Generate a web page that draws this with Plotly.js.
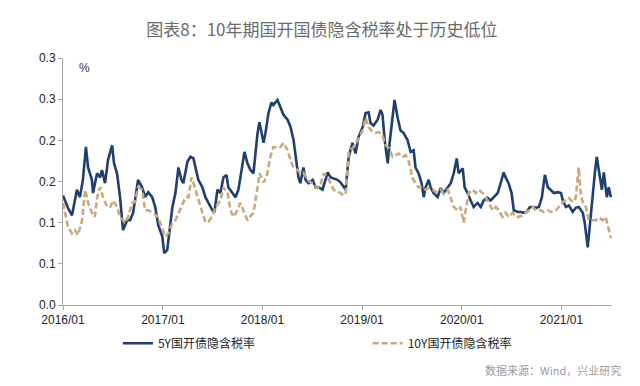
<!DOCTYPE html>
<html>
<head>
<meta charset="utf-8">
<script src="https://cdn.plot.ly/plotly-3.0.1.min.js"></script>
<style>html,body{margin:0;padding:0;background:#fff;}#chart{width:640px;height:386px;}</style>
</head>
<body>
<div id="chart"></div>
<script>
const dates5Y = ["2016-01-01","2016-01-19","2016-02-03","2016-02-21","2016-03-03","2016-03-14","2016-03-25","2016-04-02","2016-04-16","2016-04-20","2016-05-05","2016-05-16","2016-05-23","2016-06-03","2016-06-14","2016-06-29","2016-07-06","2016-07-17","2016-07-28","2016-08-08","2016-08-23","2016-09-03","2016-09-14","2016-10-02","2016-10-17","2016-10-28","2016-11-08","2016-11-23","2016-12-04","2016-12-15","2016-12-30","2017-01-06","2017-01-17","2017-01-25","2017-02-05","2017-02-16","2017-02-27","2017-03-10","2017-03-17","2017-04-01","2017-04-12","2017-04-23","2017-05-04","2017-05-11","2017-05-26","2017-06-06","2017-06-17","2017-07-02","2017-07-09","2017-07-20","2017-07-31","2017-08-11","2017-08-22","2017-08-29","2017-09-13","2017-09-24","2017-10-05","2017-10-20","2017-10-27","2017-11-07","2017-11-18","2017-11-29","2017-12-14","2017-12-21","2018-01-05","2018-01-12","2018-01-23","2018-02-03","2018-02-10","2018-02-25","2018-03-08","2018-03-19","2018-04-03","2018-04-14","2018-04-25","2018-05-02","2018-05-13","2018-05-20","2018-05-31","2018-06-08","2018-06-19","2018-07-04","2018-07-15","2018-07-26","2018-08-09","2018-08-20","2018-08-28","2018-09-08","2018-09-19","2018-10-03","2018-10-14","2018-10-25","2018-11-02","2018-11-13","2018-11-20","2018-11-27","2018-12-08","2018-12-19","2019-01-03","2019-01-14","2019-01-25","2019-02-01","2019-02-12","2019-02-27","2019-03-10","2019-03-17","2019-03-25","2019-04-05","2019-04-12","2019-04-23","2019-04-30","2019-05-11","2019-05-22","2019-06-02","2019-06-17","2019-06-28","2019-07-09","2019-07-16","2019-07-27","2019-08-07","2019-08-15","2019-08-22","2019-09-02","2019-09-09","2019-09-20","2019-10-05","2019-10-16","2019-10-27","2019-11-11","2019-11-22","2019-12-03","2019-12-14","2019-12-21","2020-01-05","2020-01-12","2020-01-23","2020-02-03","2020-02-14","2020-02-28","2020-03-11","2020-03-22","2020-04-05","2020-04-16","2020-04-27","2020-05-12","2020-05-23","2020-06-03","2020-06-10","2020-06-21","2020-07-02","2020-07-10","2020-07-25","2020-08-05","2020-08-16","2020-08-27","2020-09-07","2020-09-18","2020-09-29","2020-10-10","2020-10-21","2020-11-01","2020-11-12","2020-11-23","2020-12-04","2020-12-18","2020-12-30","2021-01-06","2021-01-17","2021-01-28","2021-02-11","2021-02-22","2021-03-05","2021-03-20","2021-03-27","2021-04-07","2021-04-15","2021-04-26","2021-05-03","2021-05-10","2021-05-18","2021-05-29","2021-06-05","2021-06-16","2021-06-23","2021-07-01"];
const values5Y = [0.133,0.118,0.109,0.140,0.131,0.152,0.192,0.167,0.152,0.136,0.160,0.155,0.164,0.148,0.176,0.194,0.172,0.160,0.131,0.091,0.103,0.103,0.112,0.152,0.143,0.131,0.137,0.131,0.119,0.097,0.083,0.063,0.067,0.089,0.119,0.136,0.167,0.152,0.148,0.174,0.180,0.178,0.164,0.152,0.143,0.131,0.124,0.115,0.113,0.140,0.136,0.155,0.158,0.143,0.136,0.131,0.140,0.172,0.186,0.172,0.164,0.160,0.209,0.222,0.197,0.209,0.233,0.246,0.243,0.249,0.239,0.231,0.225,0.216,0.200,0.180,0.155,0.148,0.167,0.152,0.148,0.152,0.143,0.143,0.140,0.152,0.161,0.155,0.154,0.152,0.149,0.143,0.140,0.180,0.188,0.197,0.184,0.204,0.216,0.233,0.234,0.221,0.218,0.225,0.237,0.231,0.200,0.172,0.197,0.228,0.249,0.228,0.212,0.209,0.200,0.186,0.188,0.167,0.160,0.148,0.131,0.143,0.152,0.143,0.136,0.131,0.142,0.136,0.143,0.148,0.160,0.178,0.160,0.166,0.143,0.136,0.127,0.119,0.124,0.119,0.127,0.130,0.127,0.131,0.136,0.148,0.161,0.155,0.148,0.136,0.115,0.113,0.113,0.112,0.113,0.119,0.119,0.118,0.119,0.131,0.158,0.143,0.140,0.136,0.137,0.136,0.127,0.119,0.121,0.113,0.118,0.119,0.112,0.100,0.070,0.100,0.131,0.160,0.180,0.164,0.140,0.161,0.131,0.143,0.131];

const dates10Y = ["2016-01-01","2016-01-19","2016-02-03","2016-02-14","2016-02-25","2016-03-11","2016-03-22","2016-04-02","2016-04-16","2016-04-27","2016-05-05","2016-05-16","2016-05-27","2016-06-11","2016-06-22","2016-07-03","2016-07-17","2016-07-28","2016-08-16","2016-08-27","2016-09-10","2016-09-21","2016-10-02","2016-10-17","2016-10-28","2016-11-08","2016-11-26","2016-12-11","2016-12-22","2017-01-10","2017-01-21","2017-02-05","2017-02-16","2017-02-27","2017-03-14","2017-03-25","2017-04-05","2017-04-16","2017-04-23","2017-04-30","2017-05-11","2017-05-26","2017-06-06","2017-06-17","2017-07-02","2017-07-13","2017-07-31","2017-08-11","2017-08-26","2017-09-06","2017-09-17","2017-10-01","2017-10-12","2017-10-24","2017-11-07","2017-11-18","2017-11-29","2017-12-14","2017-12-21","2018-01-05","2018-01-16","2018-01-30","2018-02-10","2018-02-25","2018-03-08","2018-03-19","2018-04-03","2018-04-14","2018-04-25","2018-05-09","2018-05-20","2018-05-31","2018-06-15","2018-06-26","2018-07-07","2018-07-22","2018-08-02","2018-08-13","2018-08-28","2018-09-08","2018-09-19","2018-10-03","2018-10-14","2018-10-25","2018-11-02","2018-11-13","2018-12-01","2018-12-16","2019-01-03","2019-01-14","2019-01-25","2019-02-09","2019-02-20","2019-03-03","2019-03-17","2019-03-28","2019-04-08","2019-04-23","2019-05-04","2019-05-15","2019-05-30","2019-06-10","2019-06-21","2019-07-05","2019-07-16","2019-07-27","2019-08-11","2019-08-22","2019-09-02","2019-09-17","2019-09-28","2019-10-16","2019-10-27","2019-11-11","2019-11-22","2019-12-03","2019-12-18","2019-12-28","2020-01-08","2020-01-16","2020-01-27","2020-02-10","2020-02-21","2020-03-03","2020-03-18","2020-03-29","2020-04-09","2020-04-24","2020-05-05","2020-05-16","2020-05-30","2020-06-10","2020-06-21","2020-07-06","2020-07-17","2020-07-28","2020-08-12","2020-08-23","2020-09-03","2020-09-18","2020-09-29","2020-10-17","2020-10-28","2020-11-12","2020-11-23","2020-12-11","2020-12-22","2021-01-06","2021-01-17","2021-01-28","2021-02-11","2021-02-22","2021-03-05","2021-03-13","2021-03-20","2021-03-31","2021-04-11","2021-04-26","2021-05-07","2021-05-18","2021-06-01","2021-06-12","2021-06-23","2021-07-01"];
const values10Y = [0.124,0.095,0.087,0.091,0.085,0.103,0.140,0.124,0.112,0.107,0.131,0.143,0.131,0.119,0.119,0.127,0.119,0.107,0.100,0.107,0.124,0.125,0.143,0.140,0.115,0.115,0.112,0.108,0.100,0.083,0.087,0.100,0.103,0.112,0.124,0.131,0.131,0.155,0.148,0.140,0.127,0.112,0.101,0.101,0.109,0.119,0.127,0.143,0.136,0.115,0.107,0.115,0.124,0.115,0.103,0.108,0.112,0.143,0.160,0.149,0.155,0.180,0.192,0.191,0.192,0.197,0.188,0.176,0.167,0.164,0.160,0.161,0.152,0.149,0.148,0.142,0.146,0.160,0.155,0.148,0.140,0.137,0.136,0.133,0.136,0.186,0.192,0.200,0.212,0.227,0.216,0.210,0.209,0.210,0.206,0.194,0.191,0.180,0.182,0.184,0.180,0.182,0.174,0.154,0.148,0.143,0.143,0.140,0.142,0.140,0.137,0.140,0.136,0.140,0.130,0.119,0.115,0.119,0.100,0.115,0.136,0.140,0.136,0.140,0.136,0.131,0.124,0.115,0.119,0.115,0.107,0.112,0.107,0.112,0.107,0.107,0.109,0.112,0.115,0.119,0.115,0.115,0.113,0.115,0.113,0.115,0.119,0.125,0.127,0.130,0.125,0.130,0.167,0.133,0.125,0.119,0.103,0.103,0.103,0.106,0.103,0.107,0.091,0.081];

const seriesNames = ["5Y国开债隐含税率", "10Y国开债隐含税率"];
const yTickVals = [0, 0.05, 0.10, 0.15, 0.20, 0.25, 0.30];
const yTickText = ["0.0", "0.1", "0.1", "0.2", "0.2", "0.3", "0.3"];
const xTickVals = ["2016-01-01","2017-01-01","2018-01-01","2019-01-01","2020-01-01","2021-01-01"];
const xTickText = ["2016/01","2017/01","2018/01","2019/01","2020/01","2021/01"];

const cjk = '"Noto Sans CJK SC", "Noto Sans", sans-serif';
const latin = '"Liberation Sans", Arial, sans-serif';
const traces = [
  {x: dates5Y, y: values5Y, name: seriesNames[0], type: 'scatter', mode: 'lines', legend: 'legend',
   line: {color: '#1f3f6e', width: 2.6}},
  {x: dates10Y, y: values10Y, name: seriesNames[1], type: 'scatter', mode: 'lines', legend: 'legend2',
   line: {color: '#c8a97c', width: 2.6, dash: '6px,3px'}}
];
const legendBase = {orientation: 'h', xanchor: 'left', y: -0.155, yanchor: 'middle',
                    font: {family: cjk, size: 12, color: '#222'}, bgcolor: 'rgba(0,0,0,0)'};
const layout = {
  width: 640, height: 386,
  margin: {l: 63, r: 28, t: 58, b: 81},
  paper_bgcolor: '#fff', plot_bgcolor: '#fff',
  title: {text: '图表8：10年期国开国债隐含税率处于历史低位', x: 0.503, xanchor: 'center', y: 0.922, yanchor: 'middle',
          font: {family: cjk, size: 17, color: '#6b6b6b'}},
  xaxis: {type: 'date', range: ['2016-01-01', '2021-07-05'], tickvals: xTickVals, ticktext: xTickText,
          showgrid: false, zeroline: false, showline: true, linecolor: '#a6a6a6', linewidth: 1,
          ticks: 'outside', ticklen: 4, tickcolor: '#a6a6a6',
          tickfont: {family: latin, size: 12, color: '#222'}},
  yaxis: {range: [0, 0.30], tickvals: yTickVals, ticktext: yTickText,
          showgrid: false, zeroline: false, showline: true, linecolor: '#a6a6a6', linewidth: 1,
          ticks: 'outside', ticklen: 4, tickcolor: '#a6a6a6',
          tickfont: {family: latin, size: 12, color: '#222'}},
  showlegend: true,
  legend: Object.assign({}, legendBase, {x: 0.1}),
  legend2: Object.assign({}, legendBase, {x: 0.555}),
  annotations: [
    {text: '%', xref: 'paper', yref: 'paper', x: 0.04, y: 0.96, xanchor: 'center', yanchor: 'middle', showarrow: false,
     font: {family: latin, size: 12, color: '#333'}},
    {text: '数据来源：Wind，兴业研究', xref: 'paper', yref: 'paper', x: 1.02, xanchor: 'right', y: -0.263, yanchor: 'middle',
     showarrow: false, font: {family: cjk, size: 11, color: '#9a9a9a'}}
  ]
};
Plotly.newPlot('chart', traces, layout, {displayModeBar: false, staticPlot: true});
</script>
</body>
</html>
